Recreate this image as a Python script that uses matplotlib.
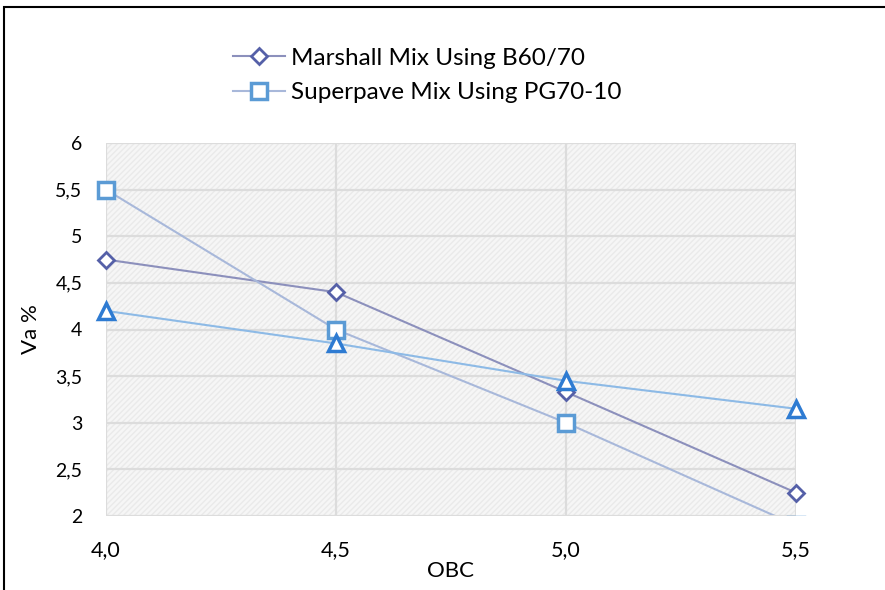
import matplotlib
matplotlib.use("Agg")
import matplotlib.pyplot as plt
from matplotlib.patches import Rectangle
from matplotlib.transforms import Bbox, TransformedBbox

obc = [4.0, 4.5, 5.0, 5.5]
marshall = [4.75, 4.4, 3.33, 2.25]
superpave = [5.5, 4.0, 3.0, 1.9]
third = [4.2, 3.85, 3.45, 3.15]
xticks = [4.0, 4.5, 5.0, 5.5]
xticklabels = ["4,0", "4,5", "5,0", "5,5"]
yticks = [2, 2.5, 3, 3.5, 4, 4.5, 5, 5.5, 6]
yticklabels = ["2", "2,5", "3", "3,5", "4", "4,5", "5", "5,5", "6"]

plt.rcParams['font.family'] = ['Lato', 'DejaVu Sans']

fig = plt.figure(figsize=(8.85, 5.9), dpi=100)
ax = fig.add_axes([106/885, 1-516/590, (796-106)/885, (516-143)/590])
ax.set_facecolor("#F6F6F6")
ax.add_patch(Rectangle((0, 0), 1, 1, transform=ax.transAxes, facecolor="none",
                       edgecolor="#EAEAEA", hatch="//////", linewidth=0, zorder=0))
for s in ax.spines.values():
    s.set_visible(False)
ax.set_xlim(4.0, 5.5)
ax.set_ylim(2, 6)
ax.set_xticks(xticks)
ax.set_xticklabels(xticklabels, fontsize=15.5)
ax.set_yticks(yticks)
ax.set_yticklabels(yticklabels, fontsize=14)
ax.tick_params(length=0)
ax.tick_params(axis='x', pad=17)
ax.tick_params(axis='y', pad=17)
ax.grid(True, color="#DCDCDC", linewidth=1.6)
ax.set_axisbelow(True)

clip = TransformedBbox(Bbox([[3.9, 2.01], [5.6, 6.1]]), ax.transData)

l1, = ax.plot(obc, marshall, color="#8C90BC", linewidth=1.5, marker="D", markersize=8.5,
              markerfacecolor="white", markeredgecolor="#5560A8", markeredgewidth=2,
              label="Marshall Mix Using B60/70", zorder=3)
l2, = ax.plot(obc, superpave, color="#A8B8DA", linewidth=1.5, marker="s", markersize=11,
              markerfacecolor="white", markeredgecolor="#5B9BD5", markeredgewidth=2.5,
              label="Superpave Mix Using PG70-10", zorder=3)
l3, = ax.plot(obc, third, color="#8DBAE6", linewidth=1.5, marker="^", markersize=12,
              markerfacecolor="white", markeredgecolor="#2E7BD2", markeredgewidth=2.5,
              zorder=3)
for ln in (l1, l2, l3):
    ln.set_clip_box(clip)

ax.set_xlabel("OBC", fontsize=16, labelpad=1)
ax.set_ylabel("Va %", fontsize=16, labelpad=10)

fig.legend(handles=[l1, l2], loc="upper left", bbox_to_anchor=(211/885, 1-26/590),
           frameon=False, fontsize=17.5, handlelength=2.14, labelspacing=0.55,
           handletextpad=0.25)

fig.patches.append(Rectangle((4/885, -0.1), 2.0, 1-7/590 + 0.1, transform=fig.transFigure,
                             facecolor="none", edgecolor="black", linewidth=1.5))

fig.savefig("out.png", dpi=100)
